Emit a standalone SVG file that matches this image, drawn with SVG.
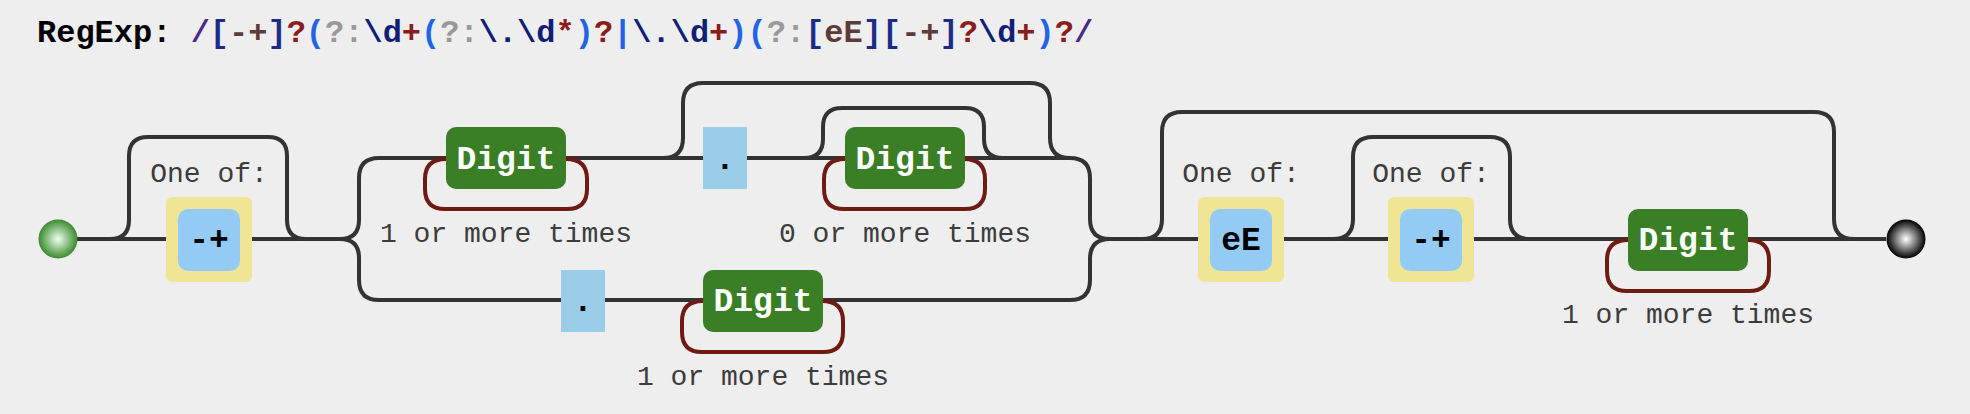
<svg xmlns="http://www.w3.org/2000/svg" width="1970" height="414" viewBox="0 0 1970 414">
<style>
.bg{fill:#eeeeee}
.ln{fill:none;stroke:#333;stroke-width:4}
.lp{fill:none;stroke:#701a14;stroke-width:4}
.cs{fill:#efe594}
.ci{fill:#94cbf5}
.dg{fill:#3a7f25}
.ex{fill:#99cde8}
.lbl{font-family:"Liberation Mono","Courier New",monospace;font-size:28px;fill:#3c3c3c;text-anchor:middle}
.bt{font-family:"Liberation Mono","Courier New",monospace;font-size:33px;font-weight:bold;text-anchor:middle;fill:#000}
.wt{fill:#fff}
.hd{font-family:"Liberation Mono","Courier New",monospace;font-size:32px;font-weight:bold}
.k{fill:#000}.s{fill:#4b2a85}.b{fill:#1b2b8a}.c{fill:#5e3a3a}.q{fill:#8b1c1c}.p{fill:#1f63e6}.g{fill:#999}.e{fill:#0e1f75}
</style>
<defs>
<radialGradient id="gs" cx="0.5" cy="0.5" r="0.5"><stop offset="0" stop-color="#eeffee"/><stop offset="1" stop-color="#3a8a2e"/></radialGradient>
<radialGradient id="ge" cx="0.5" cy="0.5" r="0.5"><stop offset="0" stop-color="#ffffff"/><stop offset="1" stop-color="#000000"/></radialGradient>
</defs>
<rect class="bg" x="0" y="0" width="1970" height="414"/>
<text class="hd" x="37" y="42" xml:space="preserve"><tspan class="k">RegExp: </tspan><tspan class="s">/</tspan><tspan class="b">[</tspan><tspan class="c">-+</tspan><tspan class="b">]</tspan><tspan class="q">?</tspan><tspan class="p">(</tspan><tspan class="g">?:</tspan><tspan class="e">\d</tspan><tspan class="q">+</tspan><tspan class="p">(</tspan><tspan class="g">?:</tspan><tspan class="e">\.\d</tspan><tspan class="q">*</tspan><tspan class="p">)</tspan><tspan class="q">?</tspan><tspan class="p">|</tspan><tspan class="e">\.\d</tspan><tspan class="q">+</tspan><tspan class="p">)(</tspan><tspan class="g">?:</tspan><tspan class="b">[</tspan><tspan class="c">eE</tspan><tspan class="b">][</tspan><tspan class="c">-+</tspan><tspan class="b">]</tspan><tspan class="q">?</tspan><tspan class="e">\d</tspan><tspan class="q">+</tspan><tspan class="p">)</tspan><tspan class="q">?</tspan><tspan class="s">/</tspan></text>
<g id="connectors">
<path class="ln" d="M77,239 H340"/>
<path class="ln" d="M110,239 q19,0 19,-19 V156 q0,-19 19,-19 H268 q19,0 19,19 V220 q0,19 19,19"/>
<path class="ln" d="M340,239 q19,0 19,-19 V178 q0,-20 20,-20 H1070 q20,0 20,20 V219 q0,20 20,20"/>
<path class="ln" d="M340,239 q19,0 19,19 V280 q0,20 20,20 H1070 q20,0 20,-20 V259 q0,-20 20,-20"/>
<path class="ln" d="M663,158 q20,0 20,-20 V103 q0,-20 20,-20 H1030 q20,0 20,20 V138 q0,20 20,20"/>
<path class="ln" d="M804,158 q19,0 19,-19 V127 q0,-19 19,-19 H965 q19,0 19,19 V139 q0,19 19,19"/>
<path class="ln" d="M1108,239 H1886"/>
<path class="ln" d="M1142,239 q20,0 20,-20 V132 q0,-20 20,-20 H1814 q20,0 20,20 V219 q0,20 20,20"/>
<path class="ln" d="M1333,239 q20,0 20,-20 V157 q0,-20 20,-20 H1490 q20,0 20,20 V219 q0,20 20,20"/>
<path class="lp" d="M446,159 q-21,0 -21,20 V189 q0,20 20,20 H567 q20,0 20,-20 V179 q0,-20 -21,-20"/>
<path class="lp" d="M845,159 q-21,0 -21,20 V189 q0,20 20,20 H965 q20,0 20,-20 V179 q0,-20 -21,-20"/>
<path class="lp" d="M703,301 q-21,0 -21,20 V332 q0,20 20,20 H823 q20,0 20,-20 V321 q0,-20 -21,-20"/>
<path class="lp" d="M1628,240 q-21,0 -21,20 V271 q0,20 20,20 H1749 q20,0 20,-20 V260 q0,-20 -21,-20"/>
</g>
<g id="start"><circle cx="58" cy="239" r="19.5" fill="url(#gs)"/></g>
<g id="sign1">
<text class="lbl" x="209" y="182">One of:</text>
<rect class="cs" x="166" y="197" width="86" height="85" rx="6"/>
<rect class="ci" x="178" y="209" width="62" height="62" rx="10"/>
<text class="bt" x="209" y="250">-+</text>
</g>
<g id="digit1">
<rect class="dg" x="446" y="127" width="120" height="62" rx="10"/>
<text class="bt wt" x="506" y="169">Digit</text>
<text class="lbl" x="506" y="242">1 or more times</text>
</g>
<g id="dot1">
<rect class="ex" x="703" y="127" width="44" height="62"/>
<text class="bt" x="725" y="169">.</text>
</g>
<g id="digit2">
<rect class="dg" x="845" y="127" width="120" height="62" rx="10"/>
<text class="bt wt" x="905" y="169">Digit</text>
<text class="lbl" x="905" y="242">0 or more times</text>
</g>
<g id="dot2">
<rect class="ex" x="561" y="270" width="44" height="62"/>
<text class="bt" x="583" y="311">.</text>
</g>
<g id="digit3">
<rect class="dg" x="703" y="270" width="120" height="62" rx="10"/>
<text class="bt wt" x="763" y="311">Digit</text>
<text class="lbl" x="763" y="385">1 or more times</text>
</g>
<g id="exp">
<text class="lbl" x="1241" y="182">One of:</text>
<rect class="cs" x="1198" y="197" width="86" height="85" rx="6"/>
<rect class="ci" x="1210" y="209" width="62" height="62" rx="10"/>
<text class="bt" x="1241" y="250">eE</text>
</g>
<g id="sign2">
<text class="lbl" x="1431" y="182">One of:</text>
<rect class="cs" x="1388" y="197" width="86" height="85" rx="6"/>
<rect class="ci" x="1400" y="209" width="62" height="62" rx="10"/>
<text class="bt" x="1431" y="250">-+</text>
</g>
<g id="digit4">
<rect class="dg" x="1628" y="209" width="120" height="62" rx="10"/>
<text class="bt wt" x="1688" y="250">Digit</text>
<text class="lbl" x="1688" y="323">1 or more times</text>
</g>
<g id="end"><circle cx="1906" cy="239" r="19.5" fill="url(#ge)"/></g>
</svg>
